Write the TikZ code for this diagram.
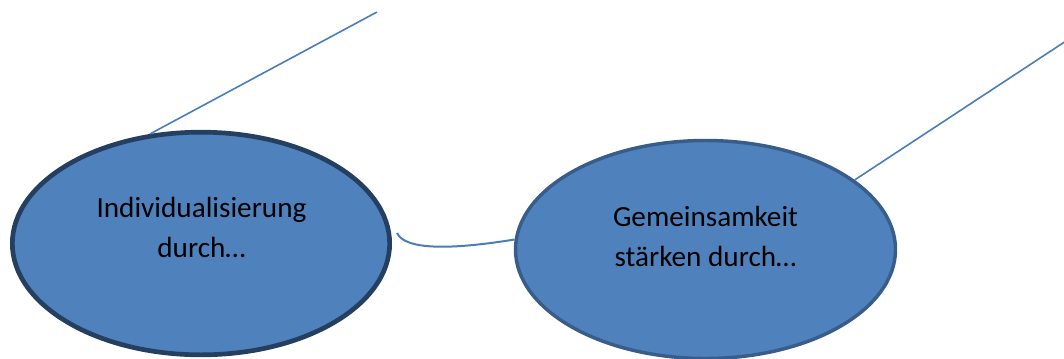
\documentclass[tikz,border=0pt]{standalone}
\usepackage{fontspec}
\setmainfont{Carlito}
\usetikzlibrary{shapes.geometric}
\definecolor{blobfill}{HTML}{4F81BD}
\definecolor{darkrim}{HTML}{243F60}
\definecolor{midrim}{HTML}{385D8A}
\definecolor{linkcol}{HTML}{4A7EBB}
\begin{document}
\begin{tikzpicture}[x=0.75pt,y=-0.75pt,
  blob/.style={ellipse, fill=blobfill, inner sep=0pt},
  txt/.style={align=center, font=\fontsize{21.9}{30}\selectfont, text=black, inner sep=0pt},
  link/.style={draw=linkcol, line width=1.2pt}]
\useasboundingbox (0,0) rectangle (1064,358);
\node[blob, draw=darkrim, line width=3.5pt, minimum width=283pt, minimum height=167pt] (L) at (201,243.5) {};
\node[blob, draw=midrim, line width=2.6pt, minimum width=285pt, minimum height=163.5pt] (R) at (705.5,249.5) {};
\node[txt, anchor=base] (Lt) at (201.5,257) {Individualisierung\\durch…};
\node[txt, anchor=base] (Rt) at (705.5,266) {Gemeinsamkeit\\stärken durch…};
\coordinate (e1) at (377,12);
\coordinate (e2) at (1066,41);
\coordinate (c1) at (397,233);
\draw[link] (L.115) -- (e1);
\draw[link] (R.25) -- (e2);
\draw[link, line width=1.5pt] (c1) .. controls (405,250) and (450,250) .. (R.177);
\end{tikzpicture}
\end{document}
